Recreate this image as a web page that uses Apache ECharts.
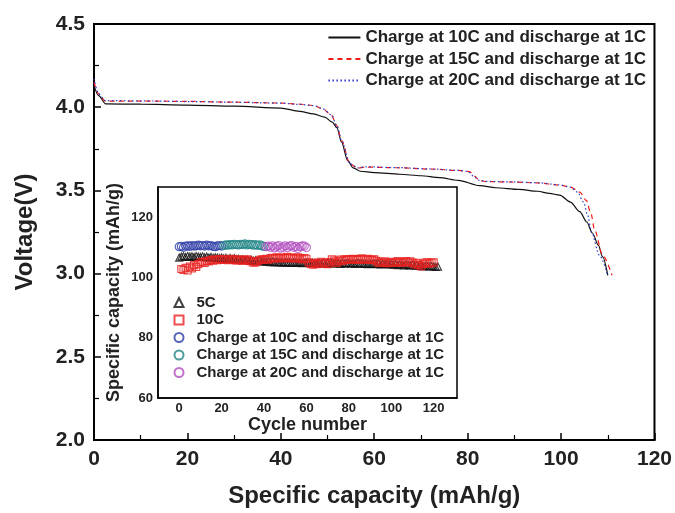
<!DOCTYPE html>
<html>
<head>
<meta charset="utf-8">
<script src="https://cdn.jsdelivr.net/npm/echarts@6/dist/echarts.min.js"></script>
<style>
  html, body { margin: 0; padding: 0; background: #fff; }
  #chart { width: 675px; height: 513px; }
</style>
</head>
<body>
<div id="chart"></div>
<script>
// main plot: voltage vs specific capacity
const names = ['Charge at 10C and discharge at 1C', 'Charge at 15C and discharge at 1C', 'Charge at 20C and discharge at 1C']
const blackCap = [0, 1, 2.5, 10, 20, 30, 40, 44, 47, 49.4, 51, 52, 53, 54.3, 55.5, 57, 60, 65.5, 70, 74, 78, 82.6, 86, 91, 95, 97.5, 99.7, 102, 104, 105.5, 106.7, 108, 108.9, 110]
const blackV = [4.13, 4.07, 4.02, 4.018, 4.013, 4.006, 3.995, 3.975, 3.96, 3.94, 3.91, 3.877, 3.79, 3.68, 3.635, 3.615, 3.607, 3.597, 3.588, 3.577, 3.56, 3.529, 3.516, 3.506, 3.495, 3.482, 3.472, 3.43, 3.372, 3.31, 3.244, 3.17, 3.10, 2.99]
const redCap = [0, 1, 2.4, 10, 20, 30, 40, 44, 47, 49, 50.8, 52, 53, 54.8, 56.5, 58, 65, 72, 78, 80.4, 81.5, 82.5, 84, 90, 95, 99.7, 102, 104, 105.4, 106.4, 107.2, 108.9, 110.9]
const redV = [4.15, 4.08, 4.037, 4.037, 4.035, 4.03, 4.025, 4.018, 4.01, 3.99, 3.953, 3.89, 3.80, 3.66, 3.633, 3.64, 3.636, 3.628, 3.62, 3.613, 3.585, 3.56, 3.553, 3.55, 3.545, 3.532, 3.52, 3.49, 3.44, 3.36, 3.26, 3.11, 2.99]
const blueCap = [0, 1, 2.4, 10, 20, 30, 40, 44, 47, 49, 50.8, 52, 53, 54.8, 56.5, 58, 65, 72, 78, 80, 81.3, 82.5, 84, 90, 95, 99.5, 102, 103.5, 104.8, 105.7, 106.5, 108.2, 110]
const blueV = [4.17, 4.08, 4.04, 4.038, 4.034, 4.03, 4.024, 4.017, 4.01, 3.99, 3.955, 3.89, 3.80, 3.66, 3.635, 3.642, 3.637, 3.629, 3.62, 3.614, 3.585, 3.56, 3.554, 3.551, 3.546, 3.534, 3.52, 3.49, 3.43, 3.35, 3.25, 3.11, 2.99]

// inset: capacity vs cycle number
const insetKeys = ['c5', 'c10', 'ch10', 'ch15', 'ch20']
const insetLabels = ['5C', '10C', 'Charge at 10C and discharge at 1C', 'Charge at 15C and discharge at 1C', 'Charge at 20C and discharge at 1C']
const start5C = 0
const cap5C = [
  106.6,106.9,107.0,106.8,107.1,106.9,107.0,106.8,107.1,106.9,
  106.8,107.0,106.7,106.9,106.6,106.8,106.5,106.7,106.6,106.4,
  106.6,106.3,106.5,106.2,106.4,106.1,106.3,106.0,106.2,105.9,
  106.0,105.8,105.9,105.6,105.8,105.5,105.7,105.4,105.6,105.3,
  105.4,105.2,105.3,105.1,105.3,105.0,105.2,105.0,105.1,104.9,
  105.1,104.9,105.0,104.8,105.0,104.9,104.8,105.0,104.7,104.9,
  104.8,104.9,104.7,104.9,104.8,104.6,104.8,104.7,104.9,104.6,
  104.8,104.7,104.9,104.6,104.8,104.7,104.5,104.8,104.6,104.7,
  104.8,104.6,104.7,104.5,104.8,104.6,104.7,104.5,104.6,104.4,
  104.6,104.5,104.7,104.4,104.6,104.3,104.5,104.4,104.6,104.3,
  104.4,104.2,104.4,104.1,104.3,104.2,104.0,104.3,104.1,104.0,
  104.2,103.9,104.1,103.8,104.0,103.7,103.9,103.8,103.6,103.8,
  103.7,103.5,103.6
]
const start10C = 1
const cap10C = [
  102.8,102.5,103.2,102.3,103.6,103.0,104.1,103.5,104.4,105.0,
  105.2,104.8,105.5,105.3,105.8,105.6,106.0,105.7,105.9,106.1,
  105.8,106.0,105.7,105.9,106.2,105.8,105.6,106.0,105.7,105.5,
  105.8,106.0,105.6,105.3,104.9,105.0,105.4,105.8,106.0,105.9,
  106.2,105.9,106.3,106.5,106.2,106.7,106.4,106.6,106.3,106.5,
  106.8,106.4,106.6,106.2,106.5,106.7,106.3,106.0,106.4,106.2,
  105.0,104.5,104.2,104.8,104.4,104.9,105.2,104.6,104.9,104.4,
  105.1,106.0,105.6,104.8,105.3,105.9,105.5,106.0,105.8,106.1,
  105.9,106.2,106.0,105.8,106.1,106.3,105.9,106.0,106.2,105.8,
  105.9,106.0,105.5,104.8,105.2,104.9,105.3,104.7,105.0,104.8,
  105.2,104.9,105.4,105.1,104.8,105.2,105.4,105.0,105.3,104.9,
  104.3,104.8,104.1,103.7,104.5,104.9,105.0,104.6,104.9,105.0
]
const startC10 = 0
const capC10 = [110.2,110.3,110.0,110.4,110.5,110.3,110.6,110.4,110.5,110.7,110.5,110.6,110.4,110.7,110.5,110.6,110.3,110.2,110.5,110.6,110.4]
const startC15 = 21
const capC15 = [110.6,110.8,110.7,110.9,110.8,111.0,110.9,110.8,111.0,110.9,111.1,110.8,111.0,110.9,110.7,110.9,110.6,110.8,110.5,110.3]
const startC20 = 41
const capC20 = [110.2,110.4,110.0,110.5,109.8,110.3,110.6,109.7,110.1,110.5,109.9,110.4,110.6,110.0,110.3,109.6,110.2,110.5,110.4,109.9]

const insetXLabels = [0, 20, 40, 60, 80, 100, 120]
const insetYLabels = [60, 80, 100, 120]

const font = "'Liberation Sans', Arial, sans-serif"
const pairs = (xs, ys) => xs.map((x, i) => [x, ys[i]])
const cyc = (s, ys) => ys.map((y, i) => [s + i, y])

const chart = echarts.init(document.getElementById('chart'))

const lineSeries = (name, xs, ys, color, type) => ({
  name: name, type: 'line', xAxisIndex: 0, yAxisIndex: 0,
  data: pairs(xs, ys), symbol: 'none', smooth: 0.3, smoothMonotone: 'x',
  lineStyle: { color: color, width: 1.2, type: type },
  itemStyle: { color: color }, z: 2
})

const scatterSeries = (name, data, symbol, size, color) => ({
  name: name, type: 'scatter', xAxisIndex: 1, yAxisIndex: 1,
  data: data, symbol: symbol, symbolSize: size,
  itemStyle: { color: 'rgba(255,255,255,0)', borderColor: color, borderWidth: 1.2 },
  z: 12
})

const option = {
  backgroundColor: '#fff',
  animation: false,
  textStyle: { fontFamily: font },
  grid: [
    { left: 94, right: 20, top: 24, bottom: 73, show: true, borderColor: '#000', borderWidth: 2, backgroundColor: '#fff' },
    { left: 158, right: 218, top: 187, bottom: 115, show: true, borderColor: '#000', borderWidth: 1.5, backgroundColor: '#fff', z: 10 }
  ],
  legend: [
    {
      data: names, orient: 'vertical', right: 24, top: 24, itemWidth: 32, itemHeight: 14, itemGap: 4.5,
      icon: 'inherit', itemStyle: { opacity: 0 },
      textStyle: { fontFamily: font, fontWeight: 'bold', fontSize: 17, color: '#222' }
    },
    {
      data: insetKeys, orient: 'vertical', left: 168.5, top: 290, itemWidth: 9, itemHeight: 9, itemGap: 2.5, z: 20,
      formatter: k => insetLabels[insetKeys.indexOf(k)],
      textStyle: { fontFamily: font, fontWeight: 'bold', fontSize: 15, color: '#222', padding: [0, 0, 0, 8], lineHeight: 15 }
    }
  ],
  xAxis: [
    {
      type: 'value', gridIndex: 0, min: 0, max: 120, interval: 20,
      name: 'Specific capacity (mAh/g)', nameLocation: 'middle', nameGap: 44,
      nameTextStyle: { fontFamily: font, fontWeight: 'bold', fontSize: 24, color: '#222' },
      axisLine: { lineStyle: { color: '#000', width: 2 } },
      axisTick: { inside: true, length: 7, lineStyle: { color: '#000', width: 1.5 } },
      minorTick: { show: true, splitNumber: 2, length: 5, lineStyle: { color: '#000', width: 1.2 } },
      axisLabel: { fontFamily: font, fontWeight: 'bold', fontSize: 21, color: '#222', margin: 9 },
      splitLine: { show: false }
    },
    {
      type: 'value', gridIndex: 1, min: -10, max: 131,
      name: 'Cycle number', nameLocation: 'middle', nameGap: 18,
      nameTextStyle: { fontFamily: font, fontWeight: 'bold', fontSize: 18, color: '#222' },
      axisLine: { onZero: false, lineStyle: { color: '#000', width: 1.5 } },
      axisTick: { show: false },
      axisLabel: { customValues: insetXLabels, fontFamily: font, fontWeight: 'bold', fontSize: 13, color: '#222', margin: 4 },
      splitLine: { show: false }, z: 11
    }
  ],
  yAxis: [
    {
      type: 'value', gridIndex: 0, min: 2, max: 4.5, interval: 0.5,
      name: 'Voltage(V)', nameLocation: 'middle', nameGap: 57,
      nameTextStyle: { fontFamily: font, fontWeight: 'bold', fontSize: 24, color: '#222' },
      axisLine: { lineStyle: { color: '#000', width: 2 } },
      axisTick: { inside: true, length: 7, lineStyle: { color: '#000', width: 1.5 } },
      minorTick: { show: true, splitNumber: 2, length: 5, lineStyle: { color: '#000', width: 1.2 } },
      axisLabel: { fontFamily: font, fontWeight: 'bold', fontSize: 21, color: '#222', margin: 9, formatter: v => v.toFixed(1) },
      splitLine: { show: false }
    },
    {
      type: 'value', gridIndex: 1, min: 60, max: 130,
      name: 'Specific capacity (mAh/g)', nameLocation: 'middle', nameGap: 35,
      nameTextStyle: { fontFamily: font, fontWeight: 'bold', fontSize: 18, color: '#222' },
      axisLine: { onZero: false, lineStyle: { color: '#000', width: 1.5 } },
      axisTick: { show: false },
      axisLabel: { customValues: insetYLabels, fontFamily: font, fontWeight: 'bold', fontSize: 13, color: '#222', margin: 5 },
      splitLine: { show: false }, z: 11
    }
  ],
  series: [
    lineSeries(names[0], blackCap, blackV, '#111', 'solid'),
    lineSeries(names[1], redCap, redV, '#f01c1c', [5, 4]),
    lineSeries(names[2], blueCap, blueV, '#2a3cc8', [1.5, 2.5]),
    scatterSeries(insetKeys[0], cyc(start5C, cap5C), 'triangle', 7, '#111'),
    scatterSeries(insetKeys[1], cyc(start10C, cap10C), 'rect', 7, '#e8201e'),
    scatterSeries(insetKeys[2], cyc(startC10, capC10), 'circle', 8, '#2f3fa6'),
    scatterSeries(insetKeys[3], cyc(startC15, capC15), 'circle', 8, '#1f8585'),
    scatterSeries(insetKeys[4], cyc(startC20, capC20), 'circle', 8, '#b24fbf')
  ]
}

chart.setOption(option)
</script>
</body>
</html>
